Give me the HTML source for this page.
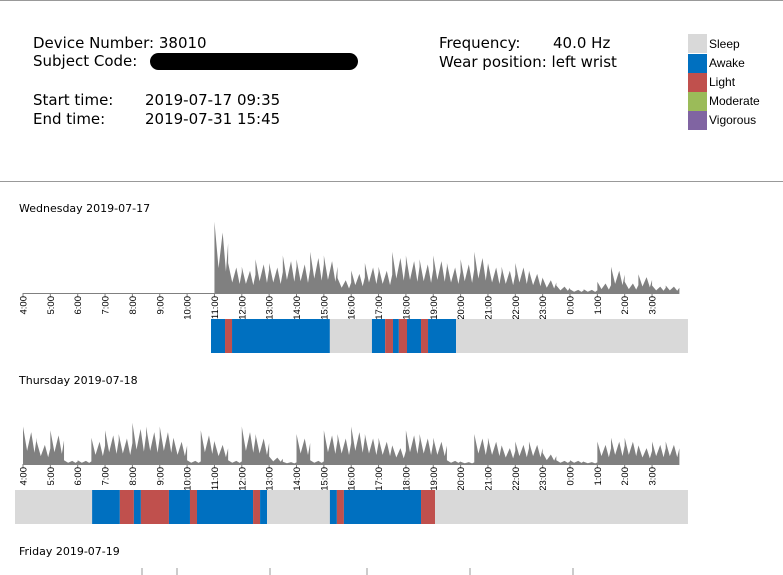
<!DOCTYPE html>
<html><head><meta charset="utf-8"><style>
body{margin:0;width:783px;height:575px;overflow:hidden;background:#fff;font-family:"DejaVu Sans","Liberation Sans",sans-serif;position:relative}
.t{position:absolute;font-size:15px;color:#000;white-space:nowrap}
.sw{position:absolute;left:688px;width:19px;height:19px}
.lg{position:absolute;left:709px;font-size:12px;font-family:"Liberation Sans",sans-serif}
.day{position:absolute;left:19px;font-size:11px}
</style></head><body>
<div style="position:absolute;left:0;top:0;width:783px;height:1px;background:#999"></div>
<div style="position:absolute;left:0;top:181px;width:783px;height:1px;background:#999"></div>
<div class="t" style="left:33px;top:34px">Device Number: 38010</div>
<div class="t" style="left:33px;top:52px">Subject Code:</div>
<div style="position:absolute;left:150px;top:53px;width:208px;height:17px;background:#000;border-radius:9px"></div>
<div class="t" style="left:33px;top:91px">Start time:</div>
<div class="t" style="left:145px;top:91px">2019-07-17 09:35</div>
<div class="t" style="left:33px;top:110px">End time:</div>
<div class="t" style="left:145px;top:110px">2019-07-31 15:45</div>
<div class="t" style="left:439px;top:34px">Frequency:</div>
<div class="t" style="left:553px;top:34px">40.0 Hz</div>
<div class="t" style="left:439px;top:53px">Wear position: left wrist</div>
<div class="sw" style="top:34px;background:#d9d9d9"></div>
<div class="lg" style="top:37px">Sleep</div>
<div class="sw" style="top:54px;background:#0070c0"></div>
<div class="lg" style="top:56px">Awake</div>
<div class="sw" style="top:73px;background:#c0504d"></div>
<div class="lg" style="top:75px">Light</div>
<div class="sw" style="top:92px;background:#9bbb59"></div>
<div class="lg" style="top:94px">Moderate</div>
<div class="sw" style="top:111px;background:#8064a2"></div>
<div class="lg" style="top:113px">Vigorous</div>
<div class="day" style="top:202px">Wednesday 2019-07-17</div>
<div class="day" style="top:374px">Thursday 2019-07-18</div>
<div class="day" style="top:545px">Friday 2019-07-19</div>
<svg id="chart" width="783" height="575" style="position:absolute;left:0;top:0"></svg>
<script>
const hourLabels=["4:00","5:00","6:00","7:00","8:00","9:00","10:00","11:00","12:00","13:00","14:00","15:00","16:00","17:00","18:00","19:00","20:00","21:00","22:00","23:00","0:00","1:00","2:00","3:00"];
const day1Start=7;
const day1Activity=[95,40,35,45,40,50,45,55,50,20,30,40,35,55,50,45,50,40,45,55,40,35,40,30,20,10,5,5,15,35,15,25,10,10];
const day2Start=0;
const day2Activity=[50,30,45,5,5,35,45,40,55,50,50,35,5,45,30,5,50,40,10,3,40,5,45,40,50,40,35,25,45,40,35,5,3,40,35,25,30,30,15,5,5,3,30,35,35,25,30,30];
const day1States=["awake","light","awake","sleep","awake","light","awake","light","awake","light","awake","sleep"];
const day1Bounds=[6.99,7.49,7.74,11.23,12.73,13.2,13.48,13.69,13.98,14.48,14.73,15.73,24];
const day2States=["sleep","awake","light","awake","light","awake","light","awake","light","awake","sleep","awake","light","awake","light","sleep"];
const day2Bounds=[0,2.75,3.74,4.24,4.49,5.49,6.24,6.49,8.49,8.74,8.99,11.23,11.48,11.73,14.48,14.98,24];
const colors={sleep:"#d9d9d9",awake:"#0070c0",light:"#c0504d",moderate:"#9bbb59",vigorous:"#8064a2"};
const svg=document.getElementById('chart');const NS="http://www.w3.org/2000/svg";
const ax=h=>23+h*27.35; const bx=h=>15+h*28.04;
function mk(tag,a){const e=document.createElementNS(NS,tag);for(const k in a)e.setAttribute(k,a[k]);svg.appendChild(e);return e;}
function day(base,start,act,states,bounds,idx){
  const ys=v=>base-v*0.75;
  let d="M"+ax(start)+","+base;
  act.forEach((v,i)=>{const h=start+i*0.5;d+=" L"+ax(h)+","+ys(v)+" L"+ax(h+0.15)+","+ys(v*0.35)+" L"+ax(h+0.3)+","+ys(v*0.85)+" L"+ax(h+0.42)+","+ys(v*0.3)+" L"+ax(h+0.5)+","+ys(v*0.7);});
  d+=" L"+ax(start+act.length*0.5)+","+base+"Z";
  const p=mk('path',{d:d,fill:"#808080"});
  
  
  const l=mk('line',{x1:ax(0),x2:ax(24),y1:base+0.5,y2:base+0.5,stroke:"#808080"});
  
  
  hourLabels.forEach((t,i)=>{
    const x=ax(i);
    mk('line',{x1:x,x2:x,y1:base,y2:base+4,stroke:"#808080"});
    const tx=mk('text',{x:0,y:0,transform:`translate(${x+3.5},${base+3}) rotate(-90)`,"text-anchor":"end","font-size":"9.5","font-family":"Liberation Sans, sans-serif"});
    tx.textContent=t;
    
    
  });
  states.forEach((s,i)=>{
    const r=mk('rect',{x:bx(bounds[i]),y:base+26,width:bx(bounds[i+1])-bx(bounds[i]),height:34,fill:colors[s]});
    
    
  });
}
day(293,day1Start,day1Activity,day1States,day1Bounds,1);
day(464,day2Start,day2Activity,day2States,day2Bounds,2);
[142,177,270,367,470,573].forEach(x=>mk('line',{x1:x,x2:x,y1:568,y2:575,stroke:"#999"}));
</script>
</body></html>
